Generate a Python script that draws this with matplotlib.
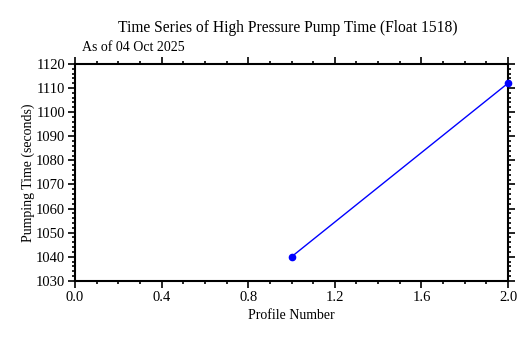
import numpy as np
import matplotlib
matplotlib.use("Agg")
import matplotlib.pyplot as plt
from matplotlib.ticker import MultipleLocator, FormatStrFormatter

# data
profile = [1, 2]
pump_time = [1040, 1112]

plt.rcParams['font.family'] = ['Liberation Serif', 'DejaVu Serif']

fig = plt.figure(figsize=(5.32, 3.38), dpi=100)
ax = fig.add_axes([0.141, 0.169, 0.814, 0.642])

ax.plot(profile, pump_time, color='blue', lw=1.0, marker='o', ms=4.5,
        clip_on=False, zorder=5)

ax.set_xlim(0, 2)
ax.set_ylim(1030, 1120)
ax.xaxis.set_major_locator(MultipleLocator(0.4))
ax.xaxis.set_minor_locator(MultipleLocator(0.1))
ax.yaxis.set_major_locator(MultipleLocator(10))
ax.yaxis.set_minor_locator(MultipleLocator(2))
ax.xaxis.set_major_formatter(FormatStrFormatter('%.1f'))

ax.tick_params(which='both', direction='out', top=True, right=True,
               labelsize=10.5, width=1.2, color='black')
ax.tick_params(which='major', length=5, pad=2)
ax.tick_params(which='minor', length=2.5)
for s in ax.spines.values():
    s.set_linewidth(1.5)

ax.set_xlabel('Profile Number', fontsize=10, labelpad=4)
ax.set_ylabel('Pumping Time (seconds)', fontsize=10, labelpad=1)
fig.text(0.54, 0.918, 'Time Series of High Pressure Pump Time (Float 1518)',
         ha='center', va='center', fontsize=11.2)
ax.text(0.015, 1.045, 'As of 04 Oct 2025', transform=ax.transAxes,
        ha='left', va='bottom', fontsize=10)

fig.savefig('out.png', dpi=100)
